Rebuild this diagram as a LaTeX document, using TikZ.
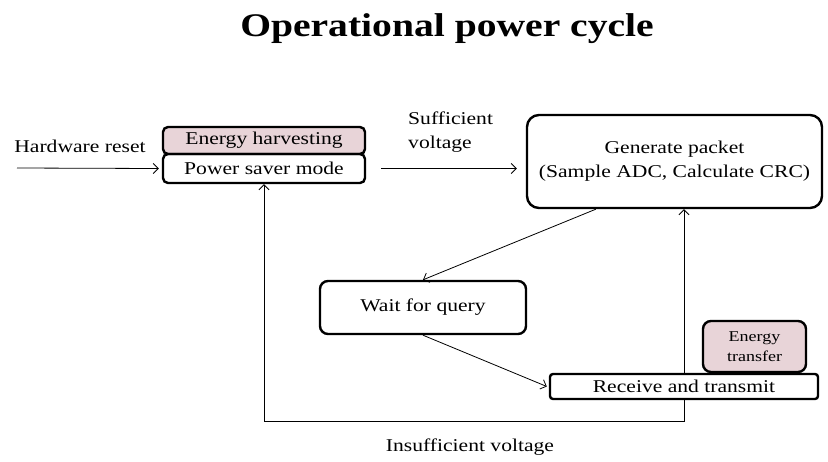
\documentclass[tikz,border=0pt]{standalone}
\usepackage{fontspec}
\setmainfont{Liberation Serif}[FakeStretch=1.2]
\usetikzlibrary{arrows.meta,calc}
\definecolor{pinkfill}{HTML}{E8D4D8}
\tikzset{
  box/.style={draw, line width=2.4pt, rounded corners=5pt, inner sep=0pt, font=\fontsize{18}{22}\selectfont},
  arr/.style={line width=0.8pt, -{Straight Barb[length=5pt,width=10pt]}},
  lbl/.style={inner sep=0pt, font=\fontsize{18}{24}\selectfont}
}
\begin{document}
\begin{tikzpicture}[x=1pt,y=-1pt]
\useasboundingbox (0,0) rectangle (828,461);
\node[font=\fontsize{33}{40}\selectfont\bfseries] (title) at (447,29) {Operational power cycle};
\node[box, fill=pinkfill, minimum width=202pt, minimum height=27pt] (eh) at (264,140.5) {Energy harvesting};
\node[box, minimum width=202pt, minimum height=29pt] (ps) at (264,168.5) {Power saver mode};
\node[box, rounded corners=12pt, minimum width=295pt, minimum height=93pt, align=center, font=\fontsize{18}{24}\selectfont] (gp) at (674.5,161.5) {Generate packet\\(Sample ADC, Calculate CRC)};
\node[box, rounded corners=8pt, minimum width=206pt, minimum height=53pt] (wq) at (423,307.5) {Wait for query};
\node[box, fill=pinkfill, rounded corners=8pt, minimum width=103pt, minimum height=51pt, align=center, font=\fontsize{15}{20}\selectfont] (et) at (754.5,346.5) {Energy\\transfer};
\node[box, fill=white, rounded corners=3pt, minimum width=268pt, minimum height=25pt] (rt) at (684,386.5) {Receive and transmit};
\node[lbl] (hw) at (80,146) {Hardware reset};
\node[lbl, anchor=west, align=left] (sv) at (408,132) {Sufficient\\voltage};
\node[lbl] (iv) at (470,447) {Insufficient voltage};
\coordinate (hwin) at (17,168);
\draw[arr] (hwin) -- ([xshift=-3pt]ps.west);
\draw[arr, shorten <=15pt, shorten >=9pt] (ps.east) -- (ps.east -| gp.west);
\draw[arr] ([xshift=70pt]gp.south west) -- (wq.north);
\draw[arr] (wq.south) -- ([xshift=-2pt]rt.west);
\draw[arr] (rt.north) -- (rt.north |- gp.south);
\draw[arr] (rt.south) -- ++(0,21) -| (ps.south);
\end{tikzpicture}
\end{document}
